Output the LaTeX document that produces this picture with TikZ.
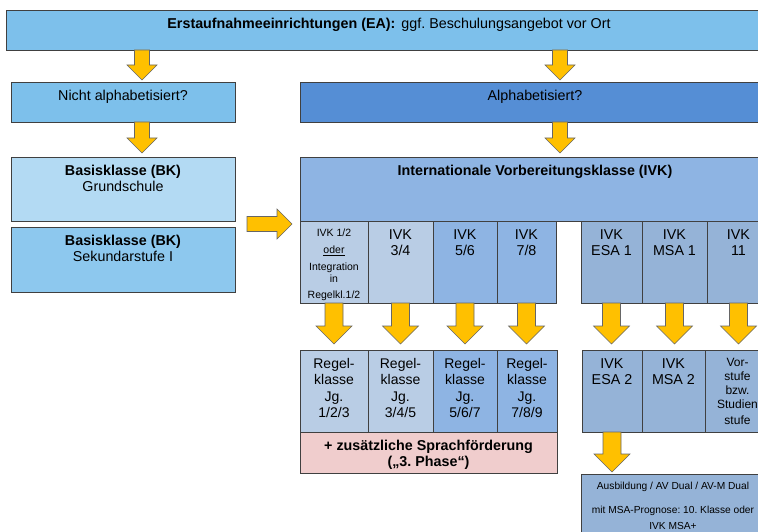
\documentclass[tikz,border=0pt]{standalone}
\usepackage{fontspec}
\setmainfont{Liberation Sans}
\usepackage{tikz}
\usetikzlibrary{calc}
\definecolor{eablau}{HTML}{7DC0EB}
\definecolor{alphablau}{HTML}{558ED5}
\definecolor{bkhell}{HTML}{B3DAF3}
\definecolor{bkmittel}{HTML}{8DC8EE}
\definecolor{ivkblau}{HTML}{8EB4E3}
\definecolor{ivkhell}{HTML}{B9CDE5}
\definecolor{ivkgrau}{HTML}{95B3D7}
\definecolor{rosa}{HTML}{F0CDCD}
\definecolor{pfeilgelb}{HTML}{FFC000}
\tikzset{
	kiste/.style={draw=black!75, line width=0.8pt, anchor=north west, inner sep=0pt, outer sep=0pt},
	beschr/.style={anchor=north, align=flush center, inner sep=0pt, font=\fontsize{14.3}{16}\selectfont},
	pfeil/.style={draw=black!60, line width=0.6pt, fill=pfeilgelb, to path={let \p1=(\tikztostart), \p2=(\tikztotarget), \p3=($(\p2)!\pfkopf!(\p1)$) in ($(\p1)!\pfhals!90:(\p2)$) -- ($(\p3)!\pfhals!90:(\p2)$) -- ($(\p3)!\pfbreit!90:(\p2)$) -- (\p2) -- ($(\p3)!\pfbreit!-90:(\p2)$) -- ($(\p3)!\pfhals!-90:(\p2)$) -- ($(\p1)!\pfhals!-90:(\p2)$) -- cycle}},
	kleinpfeil/.style={pfeil, /utils/exec={\def\pfhals{7.5pt}\def\pfbreit{15pt}\def\pfkopf{15pt}}},
	grosspfeil/.style={pfeil, /utils/exec={\def\pfhals{9pt}\def\pfbreit{18pt}\def\pfkopf{18pt}}},
}
\def\kasten[#1](#2)(#3:#4:#5)#6{\node[kiste, fill=#1, minimum width=#4pt, minimum height=#5pt] (#2) at (#3) {};
	\node[beschr, text width=#4pt] (#2-t) at ([yshift=-8pt]#2.north) {#6};}

\begin{document}
\frenchspacing
\begin{tikzpicture}[x=1pt, y=-1pt]
			%%%%% RAHMEN %%%%%
			\useasboundingbox (0,0) rectangle (758,532);
			\clip (0,0) rectangle (758,532);
			
			%%%%% OBEN %%%%%
			\kasten[eablau](ea)(6,10:766:40){\textbf{Erstaufnahmeeinrichtungen (EA):}\hspace{6pt}ggf. Beschulungsangebot vor Ort}
			\kasten[eablau](nicht)(11,82:224:40){Nicht alphabetisiert?}
			\kasten[alphablau](alpha)(300,82:470:40){Alphabetisiert?}
			
			\kasten[bkhell](bkgs)(11,157:224:64){\textbf{Basisklasse (BK)}\\Grundschule}
			\kasten[bkmittel](bksek)(11,227:224:65){\textbf{Basisklasse (BK)}\\Sekundarstufe I}
			\kasten[ivkblau](ivk)(300,157:470:64){\textbf{Internationale Vorbereitungsklasse (IVK)}}
			
			%%%%% IVK %%%%%
			\kasten[ivkhell](ivk12)(300,221:68:82){\fontsize{10.5}{12}\selectfont IVK 1/2\\[5pt]\underline{oder}\\[5pt]Integration\\in\\Regelkl.1/2}
			\kasten[ivkhell](ivk34)(368,221:65:82){IVK\\3/4}
			\kasten[ivkblau](ivk56)(433,221:64:82){IVK\\5/6}
			\kasten[ivkblau](ivk78)(497,221:59:82){IVK\\7/8}
			\kasten[ivkgrau](esa1)(581,221:61:82){IVK\\ESA 1}
			\kasten[ivkgrau](msa1)(642,221:65:82){IVK\\MSA 1}
			\kasten[ivkgrau](ivk11)(707,221:63:82){IVK\\11}
			
			%%%%% REGELKLASSEN %%%%%
			\kasten[ivkhell](rk1)(300,350:68:82){\fontsize{14}{16.6}\selectfont Regel-\\klasse\\Jg.\\1/2/3}
			\kasten[ivkhell](rk2)(368,350:65:82){\fontsize{14}{16.6}\selectfont Regel-\\klasse\\Jg.\\3/4/5}
			\kasten[ivkblau](rk3)(433,350:64:82){\fontsize{14}{16.6}\selectfont Regel-\\klasse\\Jg.\\5/6/7}
			\kasten[ivkblau](rk4)(497,350:60:82){\fontsize{14}{16.6}\selectfont Regel-\\klasse\\Jg.\\7/8/9}
			\kasten[rosa](sprach)(300,432:257:41){\fontsize{14.3}{17}\selectfont\bfseries + zusätzliche Sprachförderung\\(„3. Phase“)}
			
			\kasten[ivkgrau](esa2)(582,350:60:82){IVK\\ESA 2}
			\kasten[ivkgrau](msa2)(642,350:63:82){IVK\\MSA 2}
			\kasten[ivkgrau](vorst)(705,350:65:82){\fontsize{12}{14}\selectfont Vor-\\stufe\\bzw.\\Studien\\stufe}
			\kasten[ivkgrau](ausb)(581,474:184:80){\fontsize{10.2}{10.5}\selectfont Ausbildung / AV Dual / AV-M Dual\\[13pt]mit MSA-Prognose: 10. Klasse oder\\IVK MSA+}
			
			%%%%% PFEILE %%%%%
			\draw[kleinpfeil] ($(ea.south -| nicht.north)+(19,0)$) to ($(nicht.north)+(19,-2)$);
			\draw[kleinpfeil] ($(ea.south -| alpha.north)+(25,0)$) to ($(alpha.north)+(25,-2)$);
			\draw[kleinpfeil] ($(nicht.south)+(19,0)$) to ($(bkgs.north)+(19,-4)$);
			\draw[kleinpfeil] ($(alpha.south)+(25,0)$) to ($(ivk.north)+(25,-4)$);
			\coordinate (bkmitte) at ($(bkgs.south east)!.5!(bksek.north east)$);
			\draw[kleinpfeil] ($(bkmitte)+(12,0)$) to ($(bkmitte -| ivk12.west)+(-8,0)$);
			
			\draw[grosspfeil] (ivk12.south) to ($(ivk12.south |- rk1.north)+(0,-6)$);
			\draw[grosspfeil] (ivk34.south) to ($(ivk34.south |- rk2.north)+(0,-6)$);
			\draw[grosspfeil] (ivk56.south) to ($(ivk56.south |- rk3.north)+(0,-6)$);
			\draw[grosspfeil] (ivk78.south) to ($(ivk78.south |- rk4.north)+(0,-6)$);
			\draw[grosspfeil] (esa1.south) to ($(esa1.south |- esa2.north)+(0,-6)$);
			\draw[grosspfeil] (msa1.south) to ($(msa1.south |- msa2.north)+(0,-6)$);
			\draw[grosspfeil] (ivk11.south) to ($(ivk11.south |- vorst.north)+(0,-6)$);
			\draw[grosspfeil] (esa2.south) to ($(esa2.south |- ausb.north)+(0,-2)$);
\end{tikzpicture}
\end{document}
